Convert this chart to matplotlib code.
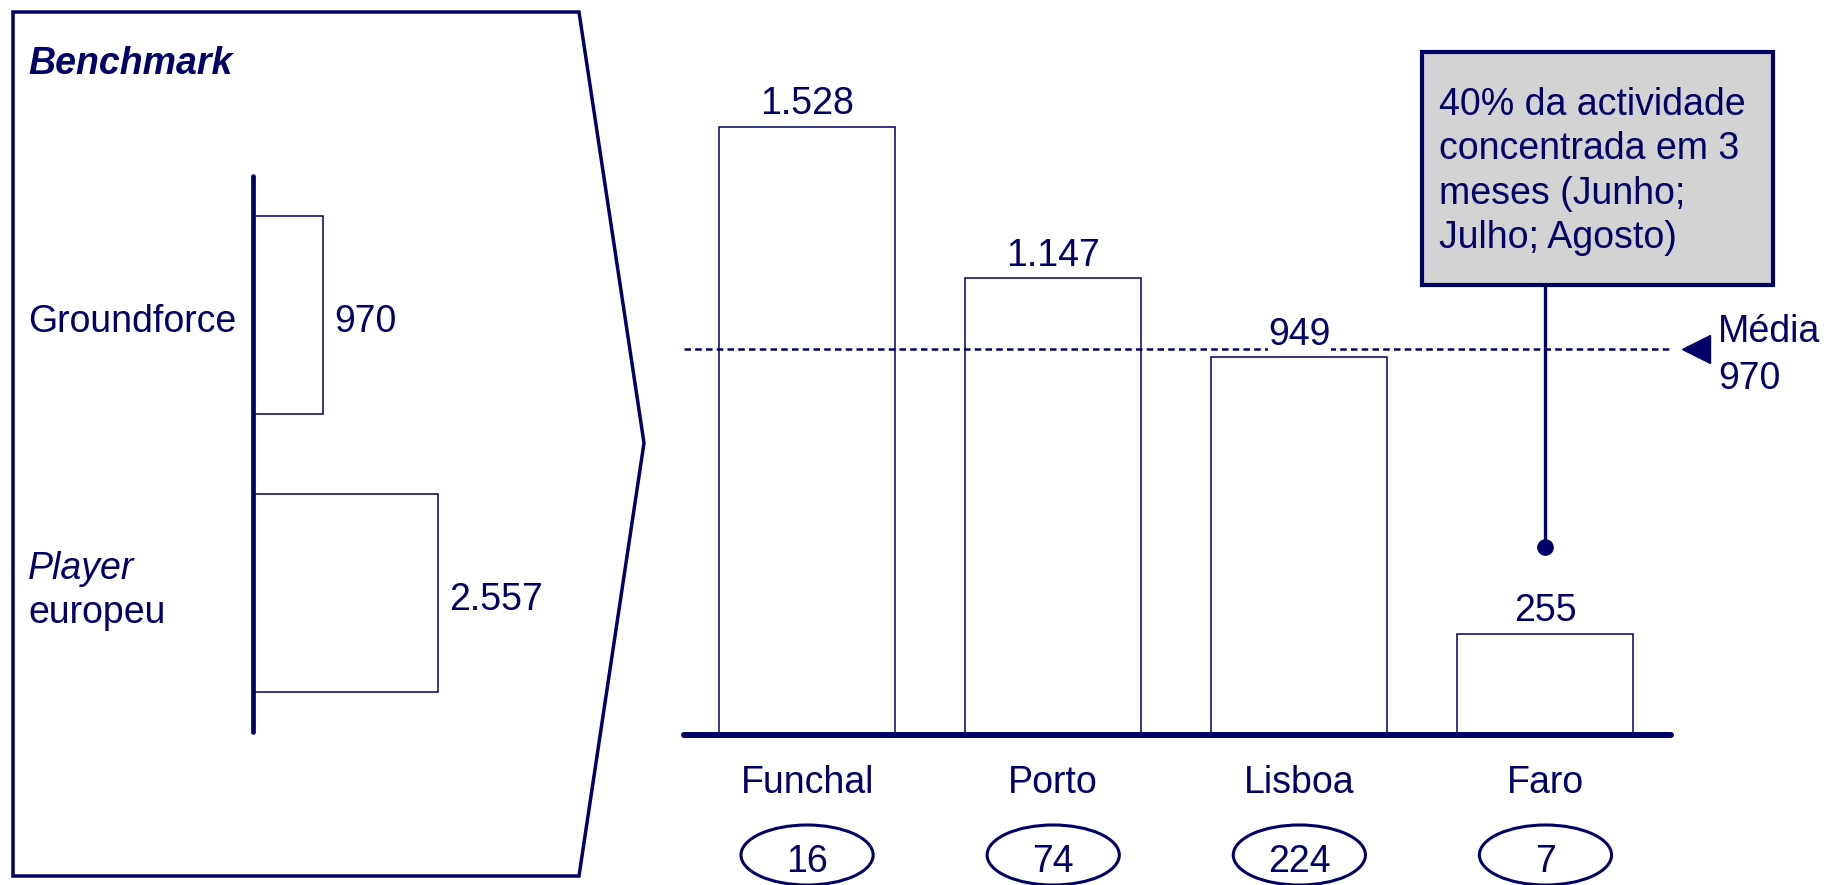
import matplotlib
matplotlib.use("Agg")
import matplotlib.pyplot as plt
from matplotlib.patches import Polygon, Ellipse, Rectangle

plt.rcParams["font.family"] = ["Liberation Sans", "DejaVu Sans"]

# data
bench_labels = ["Groundforce", "Player europeu"]
bench_values = [970, 2557]

cities = ["Funchal", "Porto", "Lisboa", "Faro"]
city_values = [1528, 1147, 949, 255]
city_counts = [16, 74, 224, 7]
media = 970

note_lines = ["40% da actividade", "concentrada em 3", "meses (Junho;", "Julho; Agosto)"]

navy = "#000066"
fs = 27
W, H = 1840, 885


def fx(x):
    return x / W


def fy(y):
    return 1 - y / H


def pt(v):
    # thousands separator as in the original (1.528)
    return f"{v:,}".replace(",", ".")


fig = plt.figure(figsize=(18.4, 8.85), dpi=100)

# chevron frame round the benchmark panel
chev = [(13, 12), (579, 12), (644, 443), (579, 876), (13, 876)]
fig.add_artist(Polygon([(fx(x), fy(y)) for x, y in chev], closed=True,
                       fill=False, edgecolor=navy, lw=2.5,
                       transform=fig.transFigure))
fig.text(fx(28), fy(74), "Benchmark", fontsize=fs, fontweight="bold",
         fontstyle="italic", color=navy, va="baseline")

# left panel: horizontal bars
ax2 = fig.add_axes([fx(253), fy(732), 327 / W, 556 / H])
ax2.barh(range(len(bench_values)), bench_values, height=0.71,
         color="white", edgecolor=navy, lw=1.1, align="center")
ax2.axvline(0, color=navy, lw=3.4, solid_capstyle="round", clip_on=False)
ax2.set_xlim(0, 4510)
ax2.set_ylim(1.5, -0.5)
ax2.axis("off")
for i, v in enumerate(bench_values):
    ax2.annotate(pt(v), xy=(v, i), xytext=(8, -12.5), textcoords="offset points",
                 ha="left", va="baseline", fontsize=fs, color=navy)

fig.text(fx(28), fy(332), bench_labels[0], fontsize=fs, color=navy, va="baseline")
fig.text(fx(28), fy(579), bench_labels[1].split()[0], fontsize=fs, color=navy,
         va="baseline", fontstyle="italic")
fig.text(fx(28), fy(623), bench_labels[1].split()[1], fontsize=fs, color=navy,
         va="baseline")

# right panel: vertical bars
ax = fig.add_axes([fx(684), fy(735), (1671 - 684) / W, 735 / H])
x = list(range(len(cities)))
ax.bar(x, city_values, width=0.715, color="white", edgecolor=navy, lw=1.1, zorder=2)
ax.set_xlim(-0.5, 3.51)
ax.set_ylim(0, 1846.7)
ax.axis("off")

ax.axhline(0, color=navy, lw=4.3, solid_capstyle="round", clip_on=False, zorder=5)
ax.axhline(media, color=navy, lw=1.8, ls=(0, (2.6, 1.7)), zorder=3)

for i, v in enumerate(city_values):
    ax.annotate(pt(v), xy=(i, v), xytext=(0, 9), textcoords="offset points",
                ha="center", va="baseline", fontsize=fs, color=navy, zorder=4,
                bbox=dict(facecolor="white", edgecolor="none", pad=0))
    ax.text(i, -145.7, cities[i], ha="center", va="baseline", fontsize=fs, color=navy)
    ax.add_patch(Ellipse((i, -301.5), 0.537, 150.8, fill=False, edgecolor=navy,
                         lw=2.2, clip_on=False))
    ax.text(i, -344, str(city_counts[i]), ha="center", va="baseline",
            fontsize=fs, color=navy)

# average marker
ax.plot(3.61, media, marker="<", ms=20, color=navy, clip_on=False)
ax.text(3.70, 987, "Média", fontsize=fs, color=navy, va="baseline")
ax.text(3.70, 869, str(media), fontsize=fs, color=navy, va="baseline")

# callout for Faro
ax.add_patch(Rectangle((2.5, 1131), 1.423, 585, facecolor="#D3D3D3",
                       edgecolor=navy, lw=3.0, clip_on=False, zorder=6))
ax.plot([3, 3], [1131, 472], color=navy, lw=2.4, zorder=5)
ax.plot(3, 472, "o", ms=11, color=navy, zorder=5)
for k, line in enumerate(note_lines):
    ax.text(2.569, 1557.8 - k * 111.3, line, fontsize=fs, color=navy,
            va="baseline", zorder=7)

fig.savefig("out.png", dpi=100)
